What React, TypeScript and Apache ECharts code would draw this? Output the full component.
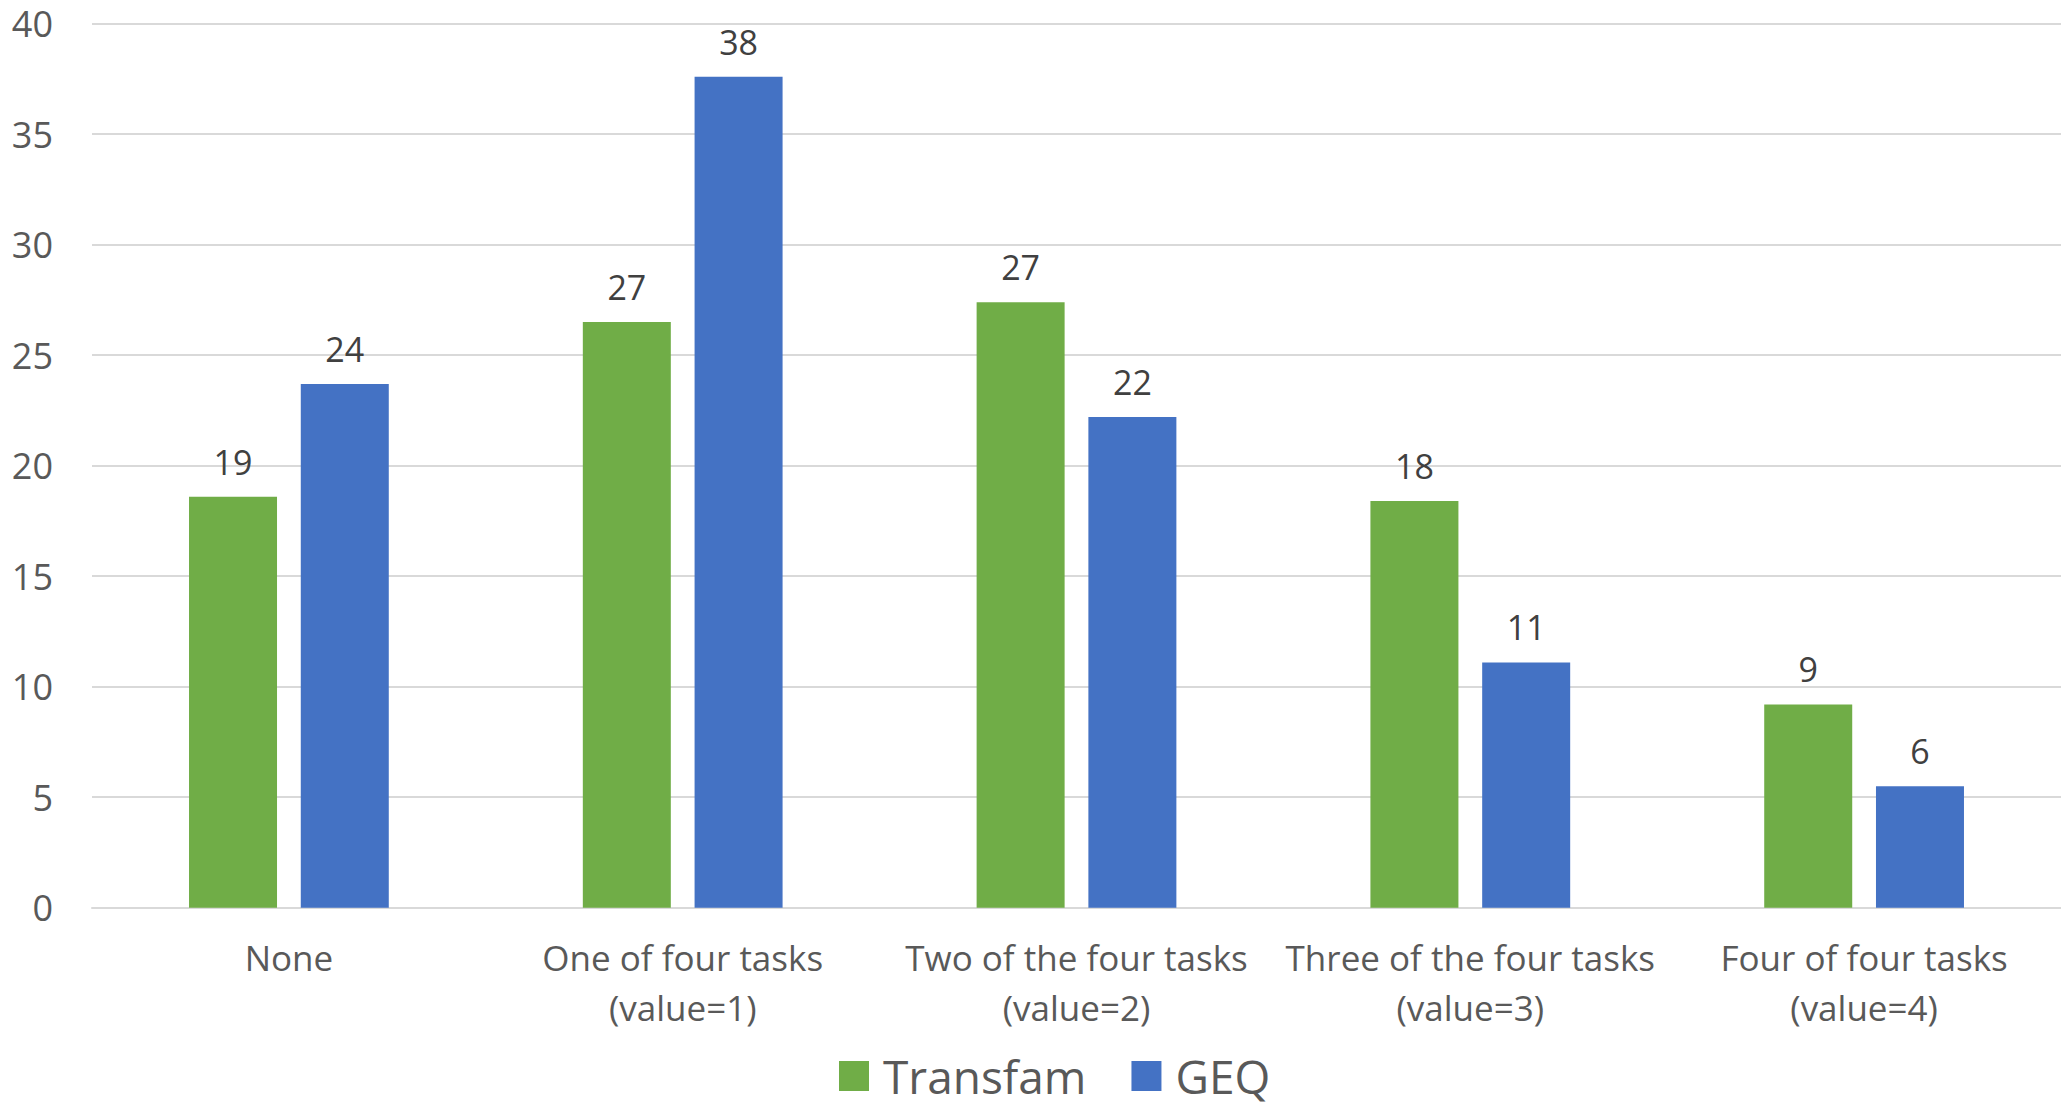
import React, { useEffect, useRef } from "react";
import * as echarts from "echarts";

const categories = [
  "None",
  "One of four tasks\n(value=1)",
  "Two of the four tasks\n(value=2)",
  "Three of the four tasks\n(value=3)",
  "Four of four tasks\n(value=4)",
];
const transfam = [18.6, 26.5, 27.4, 18.4, 9.2];
const geq = [23.7, 37.6, 22.2, 11.1, 5.5];
const seriesNames = ["Transfam", "GEQ"];
const yTicks = { min: 0, max: 40, interval: 5 };

const FONT = "'Open Sans', 'Noto Sans', sans-serif";

export default function App() {
  const ref = useRef<HTMLDivElement>(null);
  useEffect(() => {
    if (!ref.current) return;
    const chart = echarts.init(ref.current, null, { renderer: "svg" });
    const labelCfg = {
      show: true,
      position: "top",
      distance: 18,
      color: "#404040",
      fontSize: 34,
      fontFamily: FONT,
      formatter: (p: any) => String(Math.round(p.value)),
    };
    chart.setOption({
      animation: false,
      backgroundColor: "#ffffff",
      textStyle: { fontFamily: FONT },
      grid: { left: 92, right: 0, top: 23.7, bottom: 202.3, containLabel: false },
      legend: {
        data: seriesNames,
        left: 839,
        top: 1051,
        padding: 0,
        itemWidth: 30,
        itemHeight: 30,
        itemGap: 45,
        icon: "rect",
        textStyle: {
          fontSize: 46,
          lineHeight: 50,
          color: "#595959",
          fontFamily: FONT,
          padding: [0, 0, 0, 9],
        },
      },
      xAxis: {
        type: "category",
        data: categories,
        axisLine: { show: true, lineStyle: { color: "#d9d9d9", width: 2 } },
        axisTick: { show: false },
        axisLabel: {
          color: "#595959",
          fontSize: 35,
          fontFamily: FONT,
          lineHeight: 50,
          margin: 25,
          interval: 0,
        },
      },
      yAxis: {
        type: "value",
        min: yTicks.min,
        max: yTicks.max,
        interval: yTicks.interval,
        axisLine: { show: false },
        axisTick: { show: false },
        splitLine: { lineStyle: { color: "#d9d9d9", width: 2 } },
        axisLabel: { color: "#595959", fontSize: 36, fontFamily: FONT, margin: 39 },
      },
      series: [
        {
          name: seriesNames[0],
          type: "bar",
          data: transfam,
          itemStyle: { color: "#70AD47" },
          barWidth: 88,
          barGap: "27%",
          label: labelCfg,
        },
        {
          name: seriesNames[1],
          type: "bar",
          data: geq,
          itemStyle: { color: "#4472C4" },
          barWidth: 88,
          barGap: "27%",
          label: labelCfg,
        },
      ],
    });
    return () => chart.dispose();
  }, []);
  return (
    <div
      ref={ref}
      style={{ position: "fixed", left: 0, top: 0, width: 2061, height: 1110, background: "#fff" }}
    />
  );
}
